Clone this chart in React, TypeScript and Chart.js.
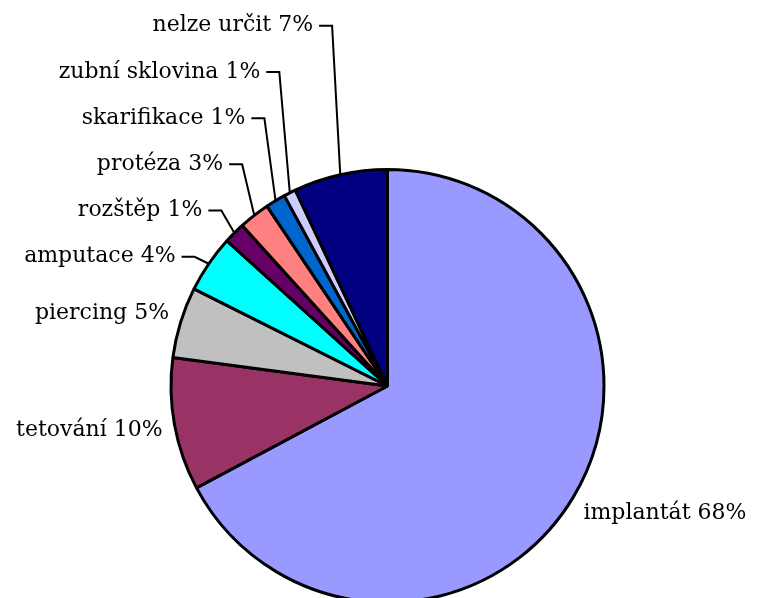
import { useEffect, useRef } from "react";
import { Chart, registerables } from "chart.js";

Chart.register(...registerables);

// ---- data ----
const categories = [
  "implantát",
  "tetování",
  "piercing",
  "amputace",
  "rozštěp",
  "protéza",
  "skarifikace",
  "zubní sklovina",
  "nelze určit",
];
const shares = [67.2, 9.9, 5.3, 4.3, 1.6, 2.3, 1.5, 0.9, 7.0];
const percentLabels = ["68%", "10%", "5%", "4%", "1%", "3%", "1%", "1%", "7%"];
const colors = [
  "#9999FF",
  "#993366",
  "#C0C0C0",
  "#00FFFF",
  "#660066",
  "#FF8080",
  "#0066CC",
  "#CCCCFF",
  "#000080",
];

// ---- label layout ----
const LEADER_FROM = 3; // slices from this index get stacked labels with leader lines
const LABEL_FONT = "22px 'DejaVu Serif'";
const STACK_STEP = 46.2;

const labelPlugin = {
  id: "pieLabels",
  afterDatasetsDraw(chart: any) {
    const ctx = chart.ctx as CanvasRenderingContext2D;
    const meta = chart.getDatasetMeta(0);
    ctx.save();
    ctx.font = LABEL_FONT;
    ctx.fillStyle = "#000";
    ctx.strokeStyle = "#000";
    ctx.lineWidth = 2;
    ctx.textBaseline = "middle";
    let stackY: number | null = null;
    meta.data.forEach((arc: any, i: number) => {
      const { x, y, startAngle, endAngle, outerRadius } = arc.getProps(
        ["x", "y", "startAngle", "endAngle", "outerRadius"],
        true
      );
      const mid = (startAngle + endAngle) / 2;
      const ux = Math.cos(mid);
      const uy = Math.sin(mid);
      const ax = x + outerRadius * ux;
      const ay = y + outerRadius * uy;
      const text = `${categories[i]} ${percentLabels[i]}`;
      if (i < LEADER_FROM) {
        const px = ax + 12 * ux;
        const py = ay + 12 * uy;
        ctx.textAlign = ux >= 0 ? "left" : "right";
        ctx.fillText(text, px, py + uy * 18);
      } else {
        stackY = stackY === null ? ay - 7 : stackY - STACK_STEP;
        const ex = ax - 6 - 10 * Math.abs(ux);
        ctx.beginPath();
        ctx.moveTo(ax, ay);
        ctx.lineTo(ex, stackY);
        ctx.lineTo(ex - 13, stackY);
        ctx.stroke();
        ctx.textAlign = "right";
        ctx.fillText(text, ex - 19, stackY);
      }
    });
    ctx.restore();
  },
};

export default function App() {
  const ref = useRef<HTMLCanvasElement | null>(null);
  useEffect(() => {
    if (!ref.current) return;
    const chart = new Chart(ref.current, {
      type: "pie",
      data: {
        labels: categories,
        datasets: [
          {
            data: shares,
            backgroundColor: colors,
            borderColor: "#000000",
            borderWidth: 3,
          },
        ],
      },
      options: {
        responsive: false,
        animation: false,
        layout: { padding: { left: 169, right: 153, top: 168, bottom: 16 } },
        plugins: {
          legend: { display: false },
          tooltip: { enabled: false },
        },
      },
      plugins: [labelPlugin],
    });
    return () => chart.destroy();
  }, []);
  return (
    <div
      style={{
        position: "absolute",
        left: 0,
        top: 0,
        width: 759,
        height: 598,
        overflow: "hidden",
        background: "#fff",
      }}
    >
      <canvas ref={ref} width={759} height={620} style={{ display: "block" }} />
    </div>
  );
}
